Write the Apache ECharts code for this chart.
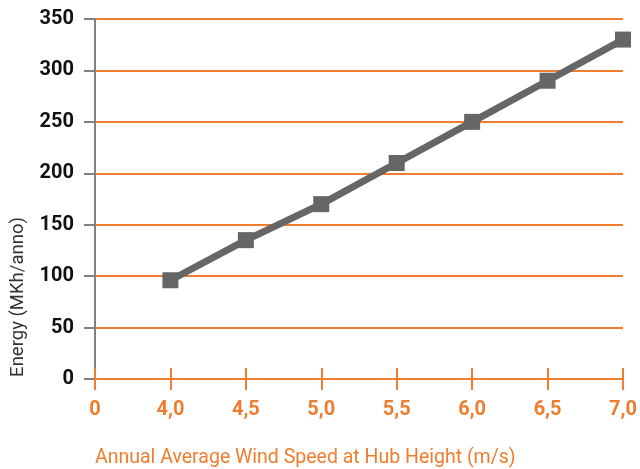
<!DOCTYPE html>
<html>
<head>
<meta charset="utf-8">
<script src="https://cdn.jsdelivr.net/npm/echarts@6/dist/echarts.min.js"></script>
<style>html,body{margin:0;padding:0;background:#fff}#c{width:640px;height:469px}</style>
</head>
<body>
<div id="c"></div>
<script>
var categories = ['0', '4,0', '4,5', '5,0', '5,5', '6,0', '6,5', '7,0'];
var energy = [null, 96, 135, 170, 210, 250, 290, 330];
var yTicks = [0, 50, 100, 150, 200, 250, 300, 350];
var yTitle = 'Energy (MKh/anno)';
var xTitle = 'Annual Average Wind Speed at Hub Height (m/s)';

var orange = '#f07d2e';
var chart = echarts.init(document.getElementById('c'));
chart.setOption({
  animation: false,
  grid: { left: 95, right: 17, top: 19, bottom: 90, containLabel: false },
  xAxis: [{
    type: 'category', data: categories, boundaryGap: false,
    axisLine: { lineStyle: { color: orange, width: 2 } },
    axisTick: { show: true, length: 11, inside: false, alignWithLabel: true, lineStyle: { color: orange, width: 2 } },
    axisLabel: { color: orange, fontSize: 20, fontWeight: 'bold', fontFamily: 'Roboto', margin: 21 },
    splitLine: { show: false }
  }, {
    type: 'category', data: categories, boundaryGap: false, position: 'bottom',
    axisLine: { show: false },
    axisTick: { show: true, length: 11, inside: true, lineStyle: { color: orange, width: 2 } },
    axisLabel: { show: false },
    splitLine: { show: false }
  }],
  yAxis: {
    type: 'value', min: yTicks[0], max: yTicks[yTicks.length - 1], interval: 50,
    axisLine: { show: true, lineStyle: { color: '#808080', width: 2 } },
    axisTick: { show: true, length: 11, lineStyle: { color: '#808080', width: 2 } },
    axisLabel: { color: '#111', fontSize: 20, fontWeight: 'bold', fontFamily: 'Roboto', margin: 21 },
    splitLine: { show: true, lineStyle: { color: orange, width: 2 } }
  },
  series: [{
    type: 'line', data: energy, xAxisIndex: 0,
    symbol: 'rect', symbolSize: 16,
    lineStyle: { color: '#666', width: 7 },
    itemStyle: { color: '#666' },
    z: 5
  }],
  graphic: [{
    type: 'text', x: 18, y: 297, rotation: Math.PI / 2,
    style: { text: yTitle, fill: '#333', fontSize: 18.5, fontFamily: 'Roboto', textAlign: 'center', textVerticalAlign: 'middle' }
  }, {
    type: 'text', x: 95, y: 458,
    style: { text: xTitle, fill: orange, fontSize: 19.5, fontFamily: 'Roboto', textAlign: 'left', textVerticalAlign: 'middle' }
  }]
});
</script>
</body>
</html>
